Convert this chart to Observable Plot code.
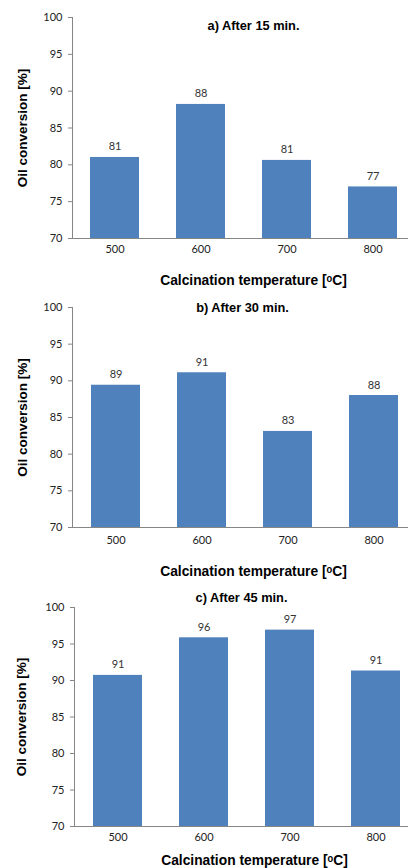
<!DOCTYPE html>
<html>
<head>
<meta charset="utf-8">
<script src="https://cdn.jsdelivr.net/npm/d3@7"></script>
<script src="https://cdn.jsdelivr.net/npm/@observablehq/plot@0.6"></script>
<style>
  html, body { margin: 0; padding: 0; background: #fff; }
  #charts svg { display: block; }
</style>
</head>
<body>
<div id="charts"></div>
<script>
// ---- data ----
const temperatures = ["500", "600", "700", "800"];
const conversion15 = [81.0, 88.2, 80.6, 77.0];
const conversion30 = [89.4, 91.1, 83.1, 88.0];
const conversion45 = [90.7, 95.85, 96.9, 91.3];
const yTicks = [70, 75, 80, 85, 90, 95, 100];
const panelTitles = ["a) After 15 min.", "b) After 30 min.", "c) After 45 min."];
const yTitle = "Oil conversion [%]";
const xTitle = "Calcination temperature [ᵒC]";

const barColor = "#4F81BD";
const axisColor = "#868686";
const tickFont = "Lato, 'Open Sans', sans-serif";
const boldFont = "'Liberation Sans', Arial, sans-serif";

const layouts = [
  {values: conversion15, title: panelTitles[0], height: 290, mt: 17, mb: 52, ml: 72, range: [72, 416], titleDx: 13, titleDy: 8, xTickPad: 7, xTitleDy: 42, yTitleDx: -50},
  {values: conversion30, title: panelTitles[1], height: 290, mt: 17, mb: 53, ml: 72, range: [72.5, 417.5], titleDx: 2, titleDy: 0, xTickPad: 9, xTitleDy: 44, yTitleDx: -50},
  {values: conversion45, title: panelTitles[2], height: 288, mt: 27, mb: 42, ml: 74, range: [74.5, 418.5], titleDx: 0, titleDy: -10, xTickPad: 7, xTitleDy: 34, yTitleDx: -53}
];

const container = document.getElementById("charts");

for (const L of layouts) {
  const rows = temperatures.map((t, i) => ({temp: t, value: L.values[i]}));
  const chart = Plot.plot({
    width: 408,
    height: L.height,
    marginTop: L.mt,
    marginBottom: L.mb,
    marginLeft: L.ml,
    marginRight: 0,
    style: {background: "#fff", overflow: "visible"},
    x: {domain: temperatures, range: L.range, paddingInner: 0.43, paddingOuter: 0.215, axis: null},
    y: {domain: [70, 100], axis: null},
    marks: [
      Plot.barY(rows, {x: "temp", y1: 70, y2: "value", fill: barColor}),
      Plot.ruleY([70], {stroke: axisColor, strokeWidth: 1}),
      Plot.frame({anchor: "left", stroke: axisColor}),
      Plot.axisY({ticks: yTicks, tickSize: 4, tickPadding: 6, stroke: axisColor, fontSize: 11, fontFamily: tickFont, fill: "#222", label: null}),
      Plot.axisX({tickSize: 0, tickPadding: L.xTickPad, fontSize: 11, fontFamily: tickFont, fill: "#222", label: null}),
      Plot.text(rows, {x: "temp", y: "value", text: d => d3.format(".0f")(d.value), lineAnchor: "bottom", dy: -7, fontSize: 11, fontFamily: tickFont, fill: "#333"}),
      Plot.text([L.title], {frameAnchor: "top", textAnchor: "middle", dx: L.titleDx, dy: L.titleDy, lineAnchor: "middle", fontSize: 12.8, fontWeight: "bold", fontFamily: boldFont, fill: "#000"}),
      Plot.text([xTitle], {frameAnchor: "bottom", textAnchor: "middle", dx: 13, dy: L.xTitleDy, lineAnchor: "middle", fontSize: 13.8, fontWeight: "bold", fontFamily: boldFont, fill: "#000"}),
      Plot.text([yTitle], {frameAnchor: "left", textAnchor: "middle", dx: L.yTitleDx, rotate: -90, lineAnchor: "middle", fontSize: 13.5, fontWeight: "bold", fontFamily: boldFont, fill: "#000"})
    ]
  });
  container.appendChild(chart);
}
</script>
</body>
</html>
